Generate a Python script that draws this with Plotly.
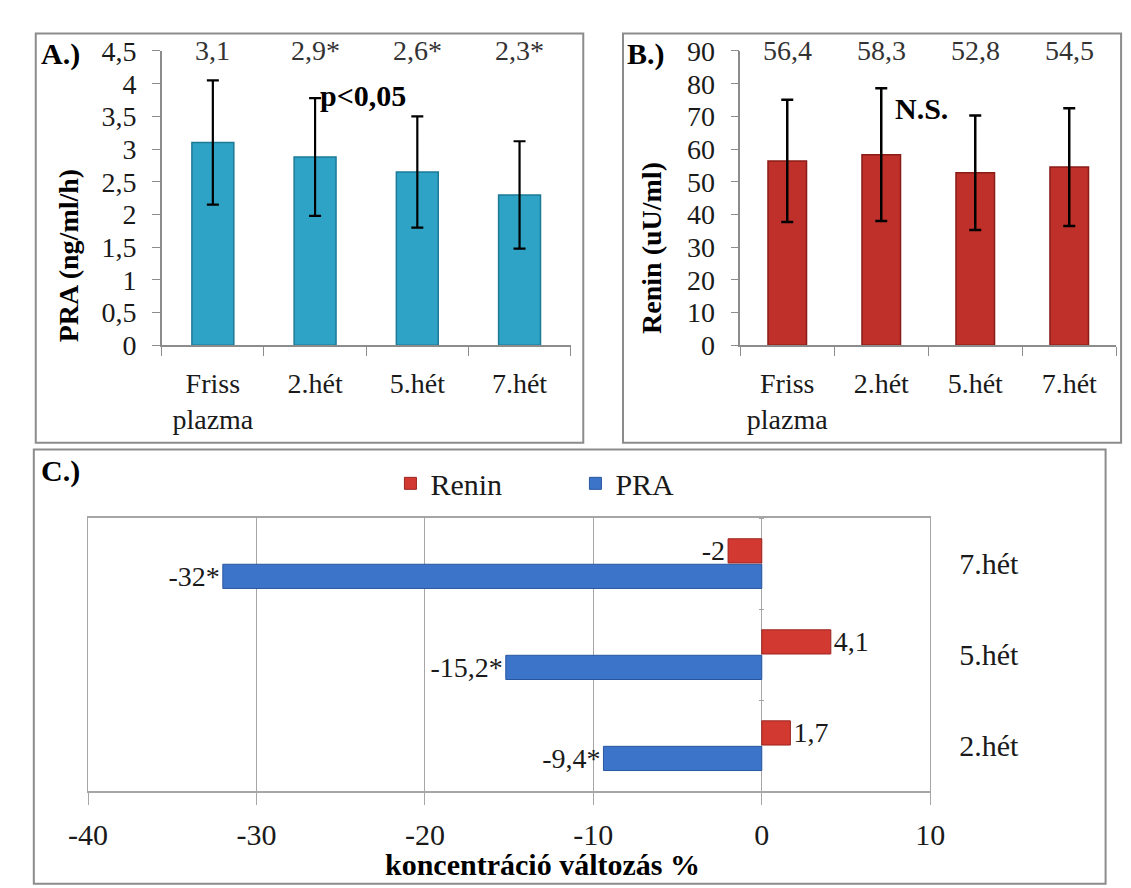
import plotly.graph_objects as go

W, H = 1131, 888

# ---------------- data ----------------
categories_ab = ["Friss<br>plazma", "2.hét", "5.hét", "7.hét"]
pra_values = [3.1, 2.88, 2.65, 2.3]
pra_err = [0.95, 0.9, 0.85, 0.82]
pra_labels = ["3,1", "2,9*", "2,6*", "2,3*"]
renin_values = [56.4, 58.3, 52.8, 54.5]
renin_err = [18.7, 20.3, 17.5, 18.0]
renin_labels = ["56,4", "58,3", "52,8", "54,5"]

weeks = ["2.hét", "5.hét", "7.hét"]
pra_change = [-9.4, -15.2, -32]
pra_change_labels = ["-9,4*", "-15,2*", "-32*"]
renin_change = [1.7, 4.1, -2]
renin_change_labels = ["1,7", "4,1", "-2"]
change_ticks = [-40, -30, -20, -10, 0, 10]

FONT = "Liberation Serif, Times New Roman, serif"
GRID = "#a6a6a6"
AXIS = "#8c8c8c"


def px(x):
    return x / W


def py(y):
    return 1 - y / H


fig = go.Figure()

# Panel A
fig.add_trace(go.Bar(
    x=categories_ab, y=pra_values, width=0.41,
    marker=dict(color="#2FA3C6", line=dict(color="#1C7A96", width=1.5)),
    error_y=dict(type="data", array=pra_err, color="black", thickness=2.2, width=6),
    xaxis="x", yaxis="y", showlegend=False, name="PRA"))

# Panel B
fig.add_trace(go.Bar(
    x=categories_ab, y=renin_values, width=0.41,
    marker=dict(color="#C0302A", line=dict(color="#8A1C18", width=1.5)),
    error_y=dict(type="data", array=renin_err, color="black", thickness=2.5, width=6),
    xaxis="x2", yaxis="y2", showlegend=False, name="Renin"))

# Panel C (PRA first -> lower bar in each group)
fig.add_trace(go.Bar(
    y=weeks, x=pra_change, orientation="h", name="PRA",
    marker=dict(color="#3C74C9", line=dict(color="#2A56A0", width=1)),
    text=pra_change_labels, textposition="outside", cliponaxis=False,
    constraintext="none",
    textfont=dict(family=FONT, size=28, color="#1a1a1a"),
    xaxis="x3", yaxis="y3"))
fig.add_trace(go.Bar(
    y=weeks, x=renin_change, orientation="h", name="Renin",
    marker=dict(color="#D23A31", line=dict(color="#9C2520", width=1)),
    text=renin_change_labels, textposition="outside", cliponaxis=False,
    constraintext="none",
    textfont=dict(family=FONT, size=28, color="#1a1a1a"),
    xaxis="x3", yaxis="y3"))
# invisible helper so the zero-line category ticks axis is drawn
fig.add_trace(go.Bar(
    y=weeks, x=renin_change, orientation="h", opacity=0, showlegend=False,
    hoverinfo="skip", xaxis="x3", yaxis="y4"))

tickfont = dict(family=FONT, size=28, color="#1a1a1a")

ab_x = dict(type="category", showline=True, linecolor=AXIS, linewidth=1.5,
            ticks="outside", tickson="boundaries", ticklen=9, tickcolor=AXIS,
            tickfont=tickfont, showgrid=False, zeroline=False, fixedrange=True,
            ticklabelstandoff=12)
ab_y = dict(showline=True, linecolor=AXIS, linewidth=1.5, ticks="outside",
            ticklen=8, tickcolor=AXIS, tickfont=tickfont, showgrid=False,
            zeroline=False, fixedrange=True, ticklabelstandoff=10)

fig.update_layout(
    width=W, height=H,
    margin=dict(l=0, r=0, t=0, b=0),
    paper_bgcolor="white", plot_bgcolor="white",
    separators=", ",
    font=dict(family=FONT, color="black"),
    barmode="group", bargap=0.44, bargroupgap=0.05,
    xaxis=dict(ab_x, domain=[px(138), px(560)], anchor="y"),
    yaxis=dict(ab_y, domain=[py(334), py(29)], range=[0, 4.5], dtick=0.5,
               anchor="x"),
    xaxis2=dict(ab_x, domain=[px(735), px(1123)], anchor="y2"),
    yaxis2=dict(ab_y, domain=[py(334), py(29)], range=[0, 90], dtick=10,
                anchor="x2"),
    xaxis3=dict(domain=[px(62), px(931)], range=[-40, 10],
                tickvals=change_ticks, ticktext=[str(v) for v in change_ticks],
                anchor="y3", showgrid=True, gridcolor=GRID, gridwidth=1,
                zeroline=True, zerolinecolor=GRID, zerolinewidth=1,
                showline=True, linecolor=GRID, linewidth=1.5, mirror=True,
                ticks="outside", ticklen=12, tickcolor=GRID,
                tickfont=dict(family=FONT, size=30, color="#1a1a1a"),
                ticklabelstandoff=4, fixedrange=True),
    yaxis3=dict(domain=[py(796), py(513)], anchor="x3", side="right",
                type="category", showgrid=False, zeroline=False,
                showline=True, linecolor=GRID, linewidth=1, mirror=True,
                ticks="", tickfont=dict(family=FONT, size=30, color="#1a1a1a"),
                ticklabelstandoff=22, fixedrange=True),
    # category tick marks on the zero line of panel C
    yaxis4=dict(matches="y3", overlaying="y3", anchor="free",
                position=px(760), side="left", type="category",
                showticklabels=False, showline=False, showgrid=False,
                zeroline=False, ticks="outside", tickson="boundaries",
                ticklen=5, tickcolor=GRID, fixedrange=True),
    legend=dict(orientation="h", x=px(374), y=py(477), xanchor="left",
                yanchor="middle", traceorder="reversed",
                font=dict(family=FONT, size=30, color="#1a1a1a"),
                entrywidth=140, entrywidthmode="pixels",
                bgcolor="rgba(0,0,0,0)"),
)

annotations = []
# value labels on top of A and B
for cat, lab in zip(categories_ab, pra_labels):
    annotations.append(dict(x=cat, y=1, xref="x", yref="y domain", text=lab,
                            showarrow=False, yanchor="middle",
                            font=dict(family=FONT, size=28, color="#333")))
for cat, lab in zip(categories_ab, renin_labels):
    annotations.append(dict(x=cat, y=1, xref="x2", yref="y2 domain", text=lab,
                            showarrow=False, yanchor="middle",
                            font=dict(family=FONT, size=28, color="#333")))

bold = lambda s: dict(family=FONT, size=s, color="black")
annotations += [
    dict(x=px(11), y=py(32), xref="paper", yref="paper", text="<b>A.)</b>",
         showarrow=False, xanchor="left", yanchor="middle", font=bold(30)),
    dict(x=px(616), y=py(32), xref="paper", yref="paper", text="<b>B.)</b>",
         showarrow=False, xanchor="left", yanchor="middle", font=bold(30)),
    dict(x=px(11), y=py(464), xref="paper", yref="paper", text="<b>C.)</b>",
         showarrow=False, xanchor="left", yanchor="middle", font=bold(30)),
    dict(x=px(42), y=py(241), xref="paper", yref="paper",
         text="<b>PRA (ng/ml/h)</b>", textangle=-90, showarrow=False,
         xanchor="center", yanchor="middle", font=bold(28)),
    dict(x=px(644), y=py(233), xref="paper", yref="paper",
         text="<b>Renin (uU/ml)</b>", textangle=-90, showarrow=False,
         xanchor="center", yanchor="middle", font=bold(28)),
    dict(x=px(299), y=py(75), xref="paper", yref="paper",
         text="<b>p<0,05</b>", showarrow=False, xanchor="left",
         yanchor="middle", font=bold(30)),
    dict(x=px(893), y=py(89), xref="paper", yref="paper",
         text="<b>N.S.</b>", showarrow=False, xanchor="left",
         yanchor="middle", font=bold(30)),
    dict(x=px(531), y=py(872), xref="paper", yref="paper",
         text="<b>koncentráció változás %</b>", showarrow=False,
         xanchor="center", yanchor="middle", font=bold(30)),
]
fig.update_layout(annotations=annotations)

# panel frames
border = dict(color="#8c8c8c", width=2)
fig.update_layout(shapes=[
    dict(type="rect", xref="paper", yref="paper", x0=px(8), x1=px(573),
         y0=py(435), y1=py(11), line=border),
    dict(type="rect", xref="paper", yref="paper", x0=px(614), x1=px(1128),
         y0=py(435), y1=py(11), line=border),
    dict(type="rect", xref="paper", yref="paper", x0=px(6), x1=px(1112),
         y0=py(892), y1=py(442), line=border),
])

fig.write_html("out.html")
